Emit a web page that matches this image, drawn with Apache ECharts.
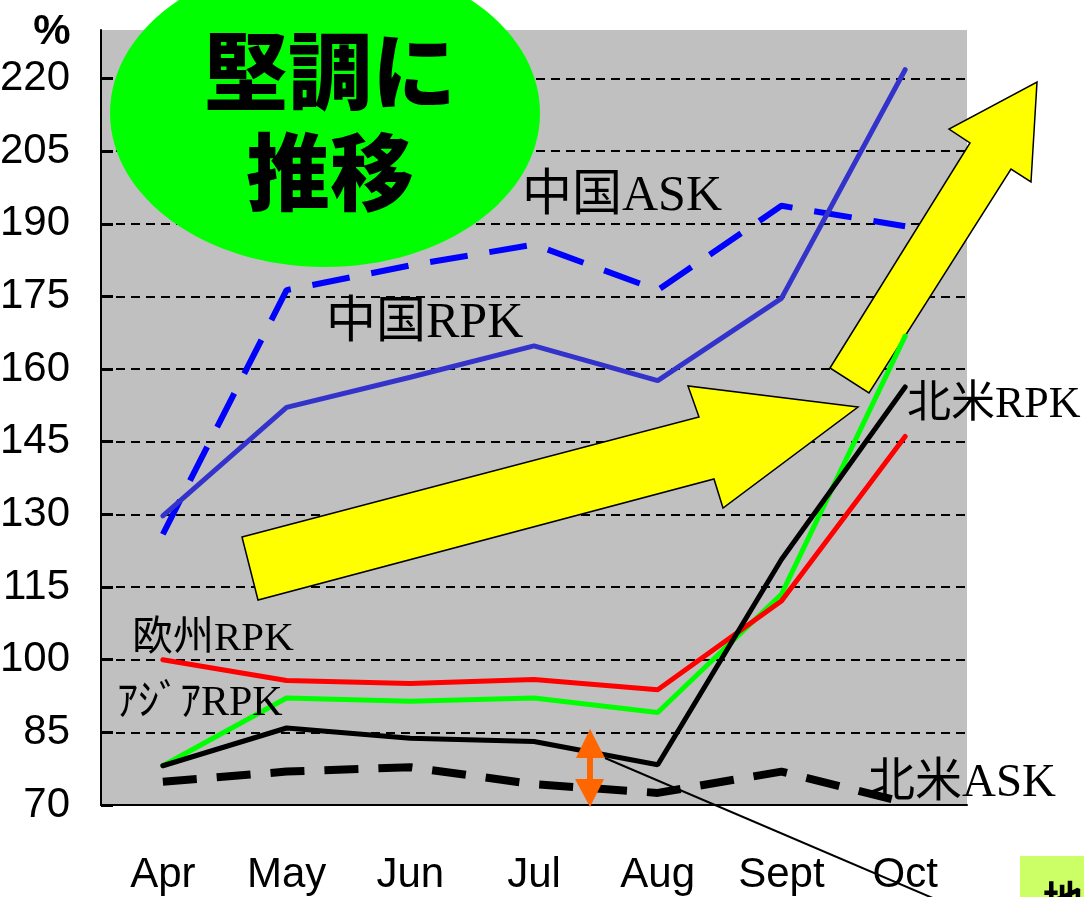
<!DOCTYPE html>
<html>
<head>
<meta charset="utf-8">
<script src="https://cdn.jsdelivr.net/npm/echarts@6/dist/echarts.min.js"></script>
<style>
  html, body { margin: 0; padding: 0; background: #fff; }
  #main { width: 1084px; height: 897px; }
</style>
</head>
<body>
<div id="main"></div>
<script>
// 月別 (前年同月比 %)
const months = ["Apr", "May", "Jun", "Jul", "Aug", "Sept", "Oct"];
const yTicks = [70, 85, 100, 115, 130, 145, 160, 175, 190, 205, 220];

const chinaASK = [125.9, 176.3, 181.4, 185.7, 176.3, 193.7, 189.5];
const chinaRPK = [129.7, 152.1, 158.3, 164.8, 157.6, 174.6, 221.8];
const europeRPK = [100.0, 95.7, 95.1, 95.9, 93.8, 112.1, 146.1];
const asiaRPK = [78.1, 92.1, 91.4, 92.1, 89.1, 113.5, 166.8];
const naRPK = [78.1, 85.9, 83.8, 83.1, 78.3, 120.7, 156.3];
const naASK = [74.8, 76.9, 77.8, 74.3, 72.5, 76.9, 70.5];

const sans = "'Liberation Sans', Arial, sans-serif";
const serif = "'Liberation Serif', 'Noto Sans CJK JP', serif";

const myChart = echarts.init(document.getElementById("main"));

function lbl(text, x, y, size) {
  return {
    type: "text", z: 20,
    style: { text: text, x: x, y: y, fill: "#000", fontSize: size, fontFamily: serif,
      align: "left", verticalAlign: "middle" }
  };
}

const option = {
  animation: false,
  backgroundColor: "#fff",
  grid: {
    left: 101, right: 117, top: 30, bottom: 92,
    outerBoundsMode: "none",
    show: true, backgroundColor: "#c0c0c0", borderWidth: 0
  },
  xAxis: {
    type: "category",
    data: months,
    boundaryGap: true,
    axisLine: { lineStyle: { color: "#000", width: 2 } },
    axisTick: { inside: true, length: 12, interval: 0, lineStyle: { color: "#000", width: 2 } },
    axisLabel: { color: "#000", fontSize: 42, fontFamily: sans, margin: 49, interval: 0 },
    splitLine: { show: false }
  },
  yAxis: {
    type: "value",
    min: 70, max: 230, interval: 15,
    axisLine: { show: true, lineStyle: { color: "#000", width: 2 } },
    axisTick: { show: true, inside: true, length: 12, customValues: yTicks, lineStyle: { color: "#000", width: 3 } },
    axisLabel: { color: "#000", fontSize: 42, fontFamily: sans, margin: 31, padding: [10, 0, 0, 0], customValues: yTicks },
    splitLine: {
      show: true, showMinLine: false,
      lineStyle: { color: "#000", width: 2, type: [9, 6] }
    }
  },
  series: [
    {
      name: "中国ASK", type: "line", data: chinaASK, symbol: "none", z: 3,
      lineStyle: { color: "#0000ff", width: 6, type: [38, 22] }
    },
    {
      name: "中国RPK", type: "line", data: chinaRPK, symbol: "none", z: 3,
      lineStyle: { color: "#3333cc", width: 5, cap: "round" }
    },
    {
      name: "北米ASK", type: "line", data: naASK, symbol: "none", z: 3,
      lineStyle: { color: "#000", width: 8, type: [34, 20] }
    },
    {
      name: "アジアRPK", type: "line", data: asiaRPK, symbol: "none", z: 4,
      lineStyle: { color: "#00ff00", width: 5, cap: "round" }
    },
    {
      name: "欧州RPK", type: "line", data: europeRPK, symbol: "none", z: 4,
      lineStyle: { color: "#ff0000", width: 5, cap: "round" }
    },
    {
      name: "北米RPK", type: "line", data: naRPK, symbol: "none", z: 5,
      lineStyle: { color: "#000", width: 5, cap: "round" }
    }
  ],
  graphic: [
    // 緑の楕円
    { type: "ellipse", z: 1, shape: { cx: 325, cy: 113, rx: 215, ry: 154 }, style: { fill: "#00ff00" } },
    { type: "text", z: 2, style: { text: "堅調に", x: 330, y: 71, fill: "#000", fontSize: 84, fontWeight: 900,
      fontFamily: "'Noto Sans CJK JP', sans-serif", align: "center", verticalAlign: "middle" } },
    { type: "text", z: 2, style: { text: "推移", x: 330, y: 172, fill: "#000", fontSize: 84, fontWeight: 900,
      fontFamily: "'Noto Sans CJK JP', sans-serif", align: "center", verticalAlign: "middle" } },
    // 黄色の矢印
    { type: "polygon", z: 1,
      shape: { points: [[242, 537], [699, 417], [688, 386], [858, 407], [723, 508], [714, 479], [258, 600]] },
      style: { fill: "#ffff00", stroke: "#000", lineWidth: 1.5 } },
    { type: "polygon", z: 1,
      shape: { points: [[830, 368], [970, 143], [949, 129], [1037, 82], [1031, 182], [1011, 169], [869, 393]] },
      style: { fill: "#ffff00", stroke: "#000", lineWidth: 1.5 } },
    // オレンジの両矢印
    { type: "polygon", z: 20,
      shape: { points: [[590, 729], [605, 758], [593, 758], [593, 779], [604, 779], [590, 807], [575, 779], [587, 779], [587, 758], [576, 758]] },
      style: { fill: "#ff6600" } },
    // 細い黒線
    { type: "line", z: 20, shape: { x1: 605, y1: 758, x2: 935, y2: 899 }, style: { stroke: "#000", lineWidth: 2 } },
    // ラベル
    lbl("中国ASK", 522, 197, 50),
    lbl("中国RPK", 326, 324, 50),
    lbl("北米RPK", 907, 405, 44),
    lbl("北米ASK", 868, 784, 47),
    lbl("欧州RPK", 132, 639, 41),
    lbl("ｱｼﾞｱRPK", 117, 704, 42),
    { type: "text", z: 20, style: { text: "%", x: 52, y: 32, fill: "#000", fontSize: 42, fontWeight: "bold",
      fontFamily: sans, align: "center", verticalAlign: "middle" } },
    // 右下の切れた見出し
    { type: "rect", z: 20, shape: { x: 1020, y: 856, width: 70, height: 45 }, style: { fill: "#ccff66" } },
    { type: "text", z: 21, style: { text: "地域", x: 1043, y: 880, fill: "#000", fontSize: 40, fontWeight: "bold",
      fontFamily: "'Noto Sans CJK JP', sans-serif", align: "left", verticalAlign: "top" } }
  ]
};

myChart.setOption(option);
</script>
</body>
</html>
